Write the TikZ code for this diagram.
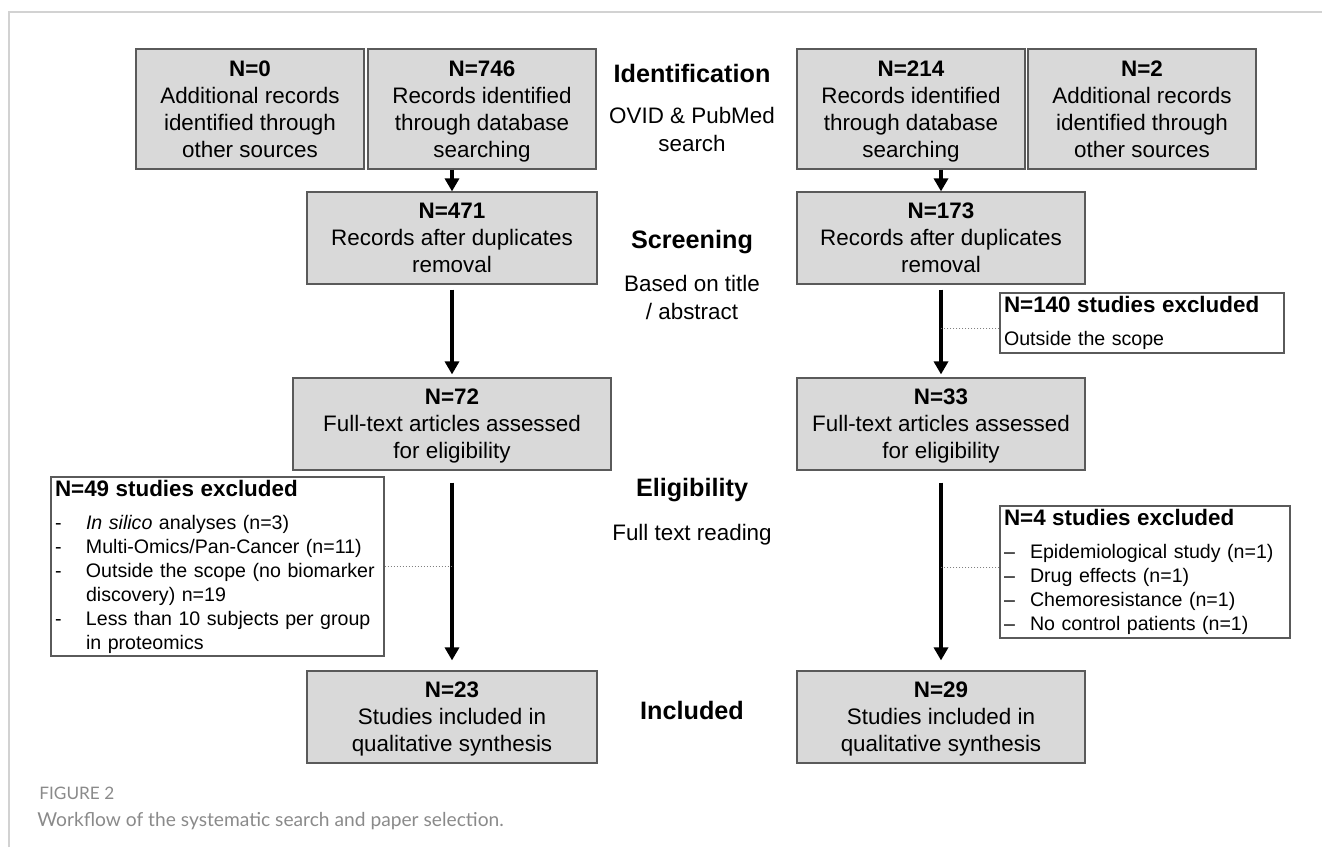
\documentclass[tikz,border=0pt]{standalone}
\usepackage{fontspec}
\setmainfont{Liberation Sans}
\newfontfamily\capfont{Lato}
\usetikzlibrary{arrows.meta,positioning}

\definecolor{boxgray}{HTML}{D9D9D9}
\definecolor{edgegray}{HTML}{5A5A5A}
\definecolor{framegray}{HTML}{D2D2D2}
\definecolor{capgray}{HTML}{8A8A8A}

\newcommand{\hyitem}{\makebox[15.5pt][l]{-}}
\newcommand{\enitem}{\makebox[13pt][l]{--}}

\begin{document}
\begin{tikzpicture}[
  x=0.5pt, y=-0.5pt,
  box/.style={draw=edgegray, fill=boxgray, line width=0.6pt, align=center, inner sep=0pt,
    minimum width=145pt, minimum height=46pt, font=\fontsize{11.2}{13.5}\selectfont,
    text depth=0pt},
  exbox/.style={draw=edgegray, fill=white, line width=0.6pt, align=left,
    inner xsep=2pt, inner ysep=0pt, font=\fontsize{9.8}{12}\selectfont},
  stage/.style={anchor=base, font=\fontsize{12.6}{15}\selectfont\bfseries},
  stagenote/.style={align=center, font=\fontsize{11.2}{14}\selectfont},
  arr/.style={line width=1.6pt, -{Triangle[width=7pt,length=6.5pt]}},
  dotline/.style={draw=gray, line width=0.5pt, densely dotted}
  ]
  \useasboundingbox (0,0) rectangle (1322,847);

  % Frame
  \draw[framegray, line width=0.6pt] (9,847) -- (9,12) -- (1322,12);

  % Identification
  \node[box, minimum width=114pt, minimum height=60pt] (n0) at (250,109)
    {\textbf{N=0}\\Additional records\\identified through\\other sources};
  \node[box, minimum width=114pt, minimum height=60pt, right of=n0, node distance=116pt] (n746)
    {\textbf{N=746}\\Records identified\\through database\\searching};
  \node[box, minimum width=114pt, minimum height=60pt] (n214) at (911,109)
    {\textbf{N=214}\\Records identified\\through database\\searching};
  \node[box, minimum width=114pt, minimum height=60pt, right of=n214, node distance=115.5pt] (n2)
    {\textbf{N=2}\\Additional records\\identified through\\other sources};

  % Screening
  \node[box] (n471) at (452,238) {\textbf{N=471}\\Records after duplicates\\removal};
  \node[box, minimum width=144pt] (n173) at (941,238) {\textbf{N=173}\\Records after duplicates\\removal};

  % Eligibility
  \node[box, minimum width=159pt] (n72) at (452,424) {\textbf{N=72}\\Full-text articles assessed\\for eligibility};
  \node[box, minimum width=144pt] (n33) at (941,424) {\textbf{N=33}\\Full-text articles assessed\\for eligibility};

  % Included
  \node[box] (n23) at (452,717) {\textbf{N=23}\\Studies included in\\qualitative synthesis};
  \node[box, minimum width=144pt] (n29) at (941,717) {\textbf{N=29}\\Studies included in\\qualitative synthesis};

  % Exclusions
  \node[exbox, text width=138pt, minimum height=30pt] (x140) at (1142,323)
    {{\fontsize{11.2}{12}\selectfont\bfseries N=140 studies excluded}\\[4.5pt]
     Outside the scope};
  \node[exbox, text width=141pt, minimum height=66pt] (x4) at (1145,572)
    {{\fontsize{11.2}{12}\selectfont\bfseries N=4 studies excluded}\\[4.5pt]
     \enitem Epidemiological study (n=1)\\
     \enitem Drug effects (n=1)\\
     \enitem Chemoresistance (n=1)\\
     \enitem No control patients (n=1)};
  \node[exbox, text width=162.5pt, minimum height=89.5pt] (x49) at (217.5,566.5)
    {{\fontsize{11.2}{12}\selectfont\bfseries N=49 studies excluded}\\[4.5pt]
     \hyitem\textit{In silico} analyses (n=3)\\
     \hyitem Multi-Omics/Pan-Cancer (n=11)\\
     \hyitem Outside the scope (no biomarker\\
     \hspace*{15.5pt}discovery) n=19\\
     \hyitem Less than 10 subjects per group\\
     \hspace*{15.5pt}in proteomics};

  % Stage labels
  \node[stage] (ident) at (692,82) {Identification};
  \node[stagenote] (identnote) at (692,129) {OVID \& PubMed\\search};
  \node[stage] (screen) at (692,248) {Screening};
  \node[stagenote] (screennote) at (692,297) {Based on title\\/ abstract};
  \node[stage] (elig) at (692,496) {Eligibility};
  \node[stagenote, anchor=base] (elignote) at (692,540) {Full text reading};
  \node[stage] (incl) at (692,719) {Included};

  % Caption
  \node[anchor=base west, inner sep=0pt, text=capgray, font=\capfont\fontsize{8.6}{10}\selectfont] (figlabel) at (39,799) {FIGURE 2};
  \node[anchor=base west, inner sep=0pt, text=capgray, font=\capfont\fontsize{9.6}{11}\selectfont] (figtext) at (37,826)
    {Workflow of the systematic search and paper selection.};

  % Connections
  \draw[arr] (n471.north |- n746.south) -- (n471.north);
  \draw[arr] (n173.north |- n214.south) -- (n173.north);
  \draw[arr, shorten <=2.5pt, shorten >=1.5pt] (n471) -- (n72);
  \draw[arr, shorten <=2.5pt, shorten >=1.5pt] (n173) -- (n33);
  \draw[arr, shorten <=6pt, shorten >=5pt] (n72) -- (n23);
  \draw[arr, shorten <=6pt, shorten >=5pt] (n33) -- (n29);
  \draw[dotline] ([yshift=-2.5pt]x140.west) -- ([yshift=-2.5pt]x140.west -| n173.south);
  \draw[dotline] ([yshift=2.5pt]x4.west) -- ([yshift=2.5pt]x4.west -| n33.south);
  \draw[dotline] (x49.east) -- (x49.east -| n72.south);
\end{tikzpicture}
\end{document}
